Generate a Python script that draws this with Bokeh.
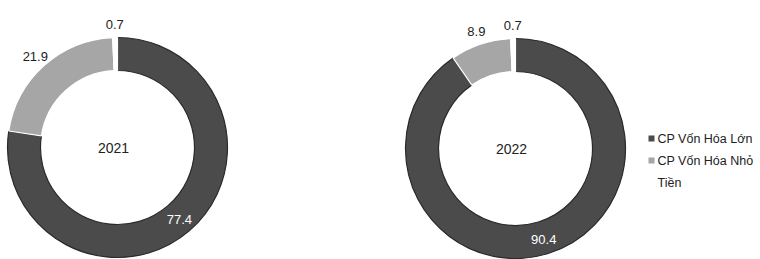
import numpy as np
from bokeh.plotting import figure
from bokeh.models import ColumnDataSource
from bokeh.core.properties import value
from bokeh.embed import file_html
from bokeh.resources import INLINE

categories = ["CP Vốn Hóa Lớn", "CP Vốn Hóa Nhỏ", "Tiền"]
years = ["2021", "2022"]
values_2021 = [77.4, 21.9, 0.7]
values_2022 = [90.4, 8.9, 0.7]
colors = ["#4b4b4b", "#a6a6a6", "#ffffff"]
edge_colors = ["#2a2a2a", "#ffffff", "#ffffff"]
label_colors = ["#ffffff", "#222222", "#222222"]

W, H = 760, 259
p = figure(width=W, height=H, x_range=(0, W), y_range=(0, H),
           output_backend="svg", toolbar_location=None, min_border=0,
           background_fill_color="white", border_fill_color="white")
p.axis.visible = False
p.grid.visible = False
p.outline_line_color = None

centers = [(117, 112), (515, 111)]
R_OUT, R_IN = 110, 77
font = value("Liberation Sans")

for (cx, cy), yr, vals in zip(centers, years, [values_2021, values_2022]):
    v = np.array(vals, dtype=float)
    frac = v / v.sum()
    cum_end = np.cumsum(frac)
    cum_start = cum_end - frac
    start = np.pi / 2 - cum_end * 2 * np.pi
    end = np.pi / 2 - cum_start * 2 * np.pi
    mid = (start + end) / 2
    inside = [True, False, False]
    rad = np.array([95 if i else 123 for i in inside])
    src = ColumnDataSource(dict(
        x=[cx] * 3, y=[cy] * 3, start=start, end=end,
        fill=colors, line=edge_colors,
        lx=cx + rad * np.cos(mid), ly=cy + rad * np.sin(mid),
        lab=[f"{x:.1f}" for x in vals], lc=label_colors,
    ))
    p.annular_wedge(x="x", y="y", inner_radius=R_IN, outer_radius=R_OUT,
                    start_angle="start", end_angle="end", fill_color="fill",
                    line_color="line", line_width=1.2, source=src)
    p.text(x="lx", y="ly", text="lab", text_color="lc", text_font=font,
           text_font_size="13px", text_align="center", text_baseline="middle",
           source=src)
    p.text(x=[cx - 4], y=[cy], text=[yr], text_font=font, text_font_size="14px",
           text_color="#222222", text_align="center", text_baseline="middle")

# legend
leg_y = [121, 99, 77]
leg_src = ColumnDataSource(dict(x=[651] * 3, y=leg_y, c=colors, lab=categories,
                                tx=[657] * 3))
p.scatter(x="x", y="y", marker="square", size=6, fill_color="c",
          line_color=None, source=leg_src)
p.text(x="tx", y="y", text="lab", text_font=font, text_font_size="12.5px",
       text_color="#222222", text_align="left", text_baseline="middle",
       source=leg_src)

open("out.html", "w").write(file_html(p, INLINE))
